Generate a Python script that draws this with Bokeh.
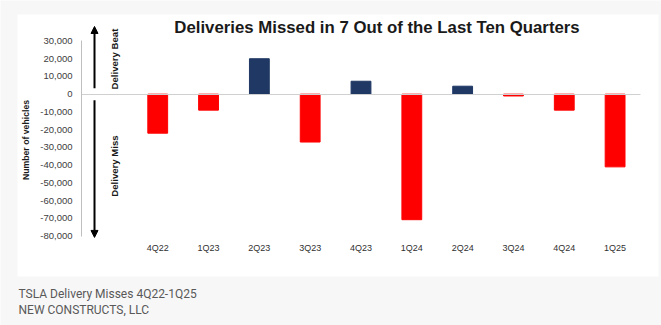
import math
from bokeh.plotting import figure
from bokeh.models import (Range1d, FixedTicker, NumeralTickFormatter, Label, LinearAxis,
                          Arrow, NormalHead, BoxAnnotation, ColumnDataSource)
from bokeh.embed import file_html
from bokeh.resources import INLINE

# ---- data ----
quarters = ["4Q22", "1Q23", "2Q23", "3Q23", "4Q23", "1Q24", "2Q24", "3Q24", "4Q24", "1Q25"]
delivery_vs_consensus = [-22000, -9000, 20000, -27000, 7300, -70800, 4500, -1000, -9000, -41000]
y_ticks = [-80000, -70000, -60000, -50000, -40000, -30000, -20000, -10000, 0, 10000, 20000, 30000]

title_text = "Deliveries Missed in 7 Out of the Last Ten Quarters"
y_title = "Number of vehicles"
beat_text = "Delivery Beat"
miss_text = "Delivery Miss"
caption_1 = "TSLA Delivery Misses 4Q22-1Q25"
caption_2 = "NEW CONSTRUCTS, LLC"

NAVY = "#1f3864"
RED = "#ff0000"

idx = list(range(len(quarters)))
colors = [NAVY if v > 0 else RED for v in delivery_vs_consensus]
src = ColumnDataSource(dict(x=idx, top=delivery_vs_consensus, color=colors))

X0, X1 = -1.5, len(quarters) - 0.5          # plotting band of the chart
p = figure(width=661, height=325, output_backend="svg", toolbar_location=None,
           x_range=Range1d(-3.0939, 9.9132), y_range=Range1d(-130487, 52846),
           x_axis_location=None, y_axis_location=None,
           min_border=0, min_border_left=0, min_border_right=0,
           min_border_top=0, min_border_bottom=0)
p.border_fill_color = "#f7f7f7"
p.background_fill_color = "#f7f7f7"
p.outline_line_color = None
p.grid.visible = False

# white card behind the chart
card = BoxAnnotation(left=17, right=658, top=14, bottom=276,
                     left_units="canvas", right_units="canvas",
                     top_units="canvas", bottom_units="canvas",
                     fill_color="white", fill_alpha=1.0, line_color=None, level="underlay")
p.add_layout(card)

p.vbar(x="x", top="top", bottom=0, width=0.39, color="color", source=src)

# zero line: an x axis fixed at y = 0 that shows only its line
zero_axis = LinearAxis(fixed_location=0, bounds=(X0, X1), ticker=FixedTicker(ticks=[]),
                       axis_line_color="#d0d0d0", axis_line_width=1,
                       major_tick_line_color=None, minor_tick_line_color=None,
                       major_tick_out=0, major_tick_in=0, minor_tick_out=0, minor_tick_in=0,
                       major_label_text_font_size="0px")
p.add_layout(zero_axis, "below")

# category axis (labels only) at the bottom of the value band
xa = LinearAxis(fixed_location=-81410, ticker=FixedTicker(ticks=idx),
                major_label_overrides={i: q for i, q in zip(idx, quarters)},
                axis_line_color=None, major_tick_line_color=None, minor_tick_line_color=None,
                major_tick_out=0, major_tick_in=0, minor_tick_out=0, minor_tick_in=0,
                major_label_standoff=5, major_label_text_font="Liberation Sans",
                major_label_text_font_size="9px", major_label_text_color="#303030")
p.add_layout(xa, "below")

# value axis
ya = LinearAxis(fixed_location=X0, ticker=FixedTicker(ticks=y_ticks),
                formatter=NumeralTickFormatter(format="0,0"),
                bounds=(y_ticks[0], y_ticks[-1]),
                axis_line_color="#bfbfbf", major_tick_line_color=None, minor_tick_line_color=None,
                major_tick_out=0, major_tick_in=0, minor_tick_out=0, minor_tick_in=0,
                major_label_standoff=9, major_label_text_font="Liberation Sans",
                major_label_text_font_size="9.5px", major_label_text_color="#404040")
p.add_layout(ya, "left")

# arrows
ax = -1.244
p.add_layout(Arrow(end=NormalHead(size=7, fill_color="black", line_color="black"),
                   x_start=ax, y_start=3400, x_end=ax, y_end=38200,
                   line_color="black", line_width=2))
p.add_layout(Arrow(end=NormalHead(size=7, fill_color="black", line_color="black"),
                   x_start=ax, y_start=-3400, x_end=ax, y_end=-80800,
                   line_color="black", line_width=2))

def canvas_label(text, x, y, size, bold=False, angle=0.0, align="center",
                 font="Liberation Sans", color="#1a1a1a"):
    p.add_layout(Label(text=text, x=x, y=y, x_units="canvas", y_units="canvas",
                       angle=angle, text_align=align, text_baseline="middle",
                       text_font=font, text_font_size=size,
                       text_font_style="bold" if bold else "normal",
                       text_color=color))

canvas_label(title_text, 376.5, 27, "16.8px", bold=True)
canvas_label(beat_text, 113.5, 58.5, "9.6px", bold=True, angle=math.pi / 2)
canvas_label(miss_text, 113.5, 165.5, "9.6px", bold=True, angle=math.pi / 2)
canvas_label(y_title, 25, 139.5, "8.7px", bold=True, angle=math.pi / 2)
canvas_label(caption_1, 18, 293, "12px", align="left", font="Roboto", color="#595959")
canvas_label(caption_2, 18, 309, "12px", align="left", font="Roboto", color="#595959")

open("out.html", "w").write(file_html(p, INLINE))
